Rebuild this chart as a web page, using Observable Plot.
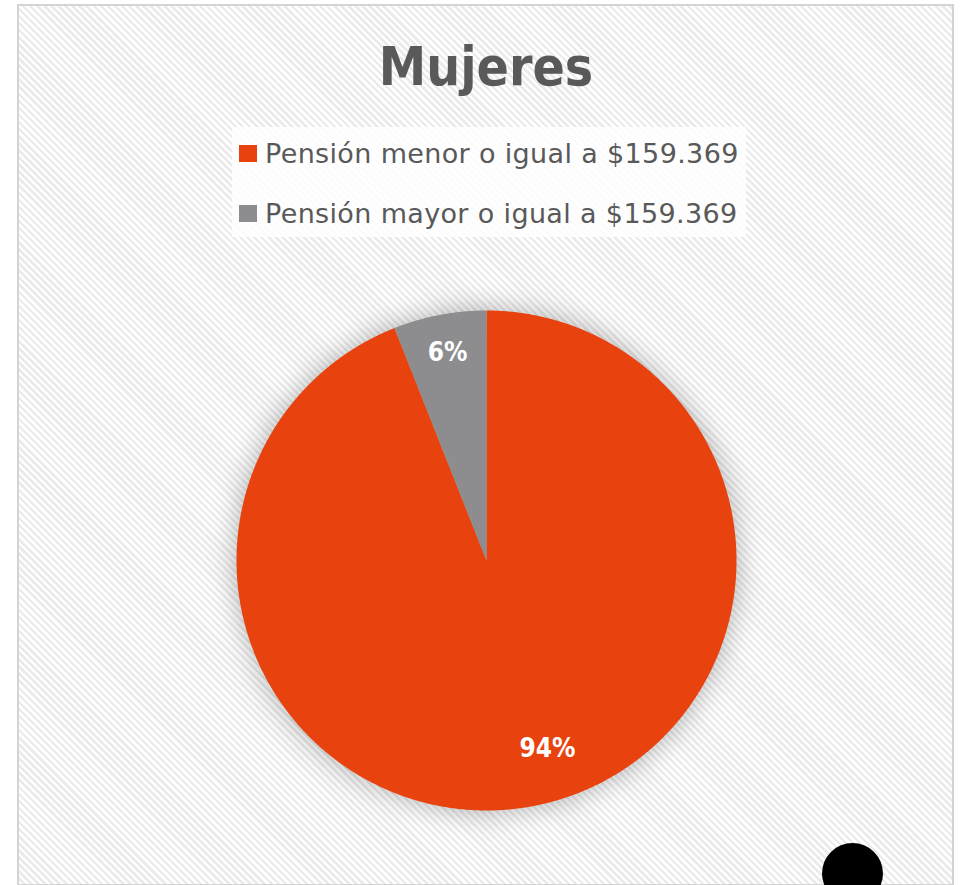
<!DOCTYPE html>
<html>
<head>
<meta charset="utf-8">
<script src="https://cdn.jsdelivr.net/npm/d3@7"></script>
<script src="https://cdn.jsdelivr.net/npm/@observablehq/plot@0.6"></script>
<style>
  html, body { margin: 0; padding: 0; background: #ffffff; }
  #wrap { position: relative; width: 962px; height: 885px; overflow: hidden; background: #ffffff;
    font-family: "DejaVu Sans Condensed", "DejaVu Sans", sans-serif; font-stretch: condensed; }
  #panel { position: absolute; left: 17px; top: 4px; width: 933px; height: 878px;
    border: 2px solid #d4d4d4;
    background: repeating-linear-gradient(45deg, #ffffff 0px, #ffffff 2.5px, #ebebeb 2.5px, #ebebeb 5px); }
  #title { position: absolute; left: 0; width: 972px; top: 40px; text-align: center;
    font-size: 53px; line-height: 1; font-weight: bold; color: #595959; }
  #legend { position: absolute; left: 232px; top: 127px; width: 514px; height: 110px;
    background: rgba(255,255,255,0.85); }
  .item { position: absolute; left: 0; height: 30px; white-space: nowrap; }
  .sw { position: absolute; left: 7px; width: 18px; height: 17px; }
  .lab { position: absolute; left: 33px; top: 0; font-family: "DejaVu Sans", sans-serif; font-stretch: normal;
    font-size: 27px; line-height: 1; color: #595959; letter-spacing: 0.35px; }
  #chart { position: absolute; left: 0; top: 250px; }
  #dot { position: absolute; left: 822px; top: 843px; width: 61px; height: 61px; border-radius: 50%; background: #000; }
</style>
</head>
<body>
<div id="wrap">
  <div id="panel"></div>
  <div id="title"></div>
  <div id="legend"></div>
  <div id="chart"></div>
  <div id="dot"></div>
</div>
<script>
const title = "Mujeres";
const categories = ["Pensión menor o igual a $159.369", "Pensión mayor o igual a $159.369"];
const values = [94, 6];
const labels = ["94%", "6%"];
const colors = ["#E8430F", "#8D8D8F"];

document.getElementById("title").textContent = title;

// legend
const legend = document.getElementById("legend");
categories.forEach((c, i) => {
  const item = document.createElement("div");
  item.className = "item";
  item.style.top = (13 + i * 60) + "px";
  const sw = document.createElement("div");
  sw.className = "sw";
  sw.style.background = colors[i];
  sw.style.top = (5) + "px";
  const lab = document.createElement("div");
  lab.className = "lab";
  lab.textContent = c;
  item.appendChild(sw);
  item.appendChild(lab);
  legend.appendChild(item);
});

// pie slices as polygons from d3.pie angles (clockwise from 12 o'clock)
const pie = d3.pie().sort(null).value(d => d.value);
const table = categories.map((c, i) => ({cat: c, value: values[i], label: labels[i]}));
const arcs = pie(table);
const pts = [];
arcs.forEach(a => {
  pts.push({cat: a.data.cat, x: 0, y: 0});
  const n = Math.max(4, Math.ceil((a.endAngle - a.startAngle) / (Math.PI / 720)));
  for (let k = 0; k <= n; k++) {
    const t = a.startAngle + (a.endAngle - a.startAngle) * k / n;
    pts.push({cat: a.data.cat, x: Math.sin(t), y: Math.cos(t)});
  }
  pts.push({cat: a.data.cat, x: 0, y: 0});
});
const labelPts = arcs.map(a => {
  const m = (a.startAngle + a.endAngle) / 2;
  const r = 0.83;
  return {label: a.data.label, cat: a.data.cat, x: r * Math.sin(m), y: r * Math.cos(m)};
});

const plot = Plot.plot({
  width: 962,
  height: 635,
  margin: 0,
  x: {domain: [-1, 1], range: [236, 736], axis: null},
  y: {domain: [-1, 1], range: [560, 60], axis: null},
  color: {domain: categories, range: colors},
  marks: [
    Plot.line(pts, {x: "x", y: "y", z: "cat", fill: "cat", stroke: "none", curve: "linear"}),
    Plot.text(labelPts.filter(d => d.label === "94%"), {x: "x", y: "y", text: "label", fill: "white",
      fontSize: 26, fontWeight: "bold", dx: 22, dy: -16}),
    Plot.text(labelPts.filter(d => d.label !== "94%"), {x: "x", y: "y", text: "label", fill: "white",
      fontSize: 26, fontWeight: "bold", dy: -4})
  ],
  style: {background: "transparent", fontFamily: "'DejaVu Sans Condensed', 'DejaVu Sans', sans-serif", overflow: "visible"}
});
const g = plot.querySelector('g[aria-label="line"]');
if (g) g.style.filter = "drop-shadow(0 0 14px rgba(0,0,0,0.3))";
plot.querySelectorAll('g[aria-label="text"]').forEach(t => t.style.fontStretch = "condensed");
document.getElementById("chart").appendChild(plot);
</script>
</body>
</html>
